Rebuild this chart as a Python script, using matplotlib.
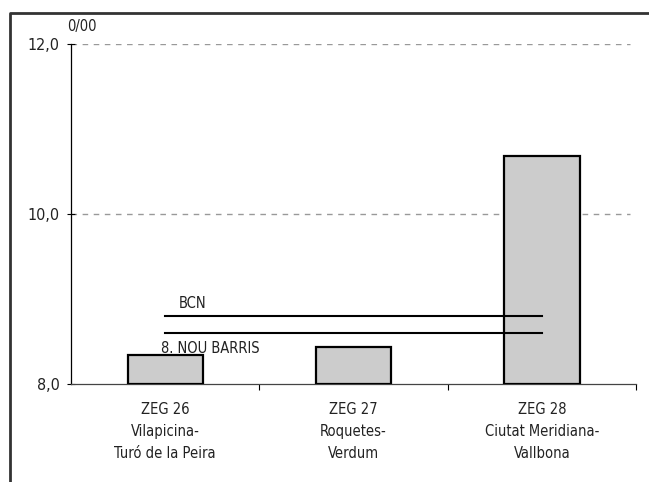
import matplotlib
matplotlib.use("Agg")
import matplotlib.pyplot as plt
from matplotlib.lines import Line2D

plt.rcParams['font.family'] = ['DejaVu Sans']
plt.rcParams['font.stretch'] = 'condensed'

categories = ["ZEG 26\nVilapicina-\nTuró de la Peira",
              "ZEG 27\nRoquetes-\nVerdum",
              "ZEG 28\nCiutat Meridiana-\nVallbona"]
values = [8.34, 8.44, 10.68]
bcn = [8.8, 8.8, 8.8]
nou_barris = [8.6, 8.6, 8.6]
yticks = [8.0, 10.0, 12.0]
ytick_labels = ["8,0", "10,0", "12,0"]

fig = plt.figure(figsize=(6.49, 4.82), dpi=100)
ax = fig.add_axes([71/649, 1-384/482, (636-71)/649, (384-44)/482])

x = list(range(len(categories)))
ax.bar(x, [v - 8.0 for v in values], bottom=8.0, width=0.4,
       color="#cccccc", edgecolor="black", linewidth=1.6, zorder=3)
ax.plot(x, bcn, color="black", lw=1.5, zorder=4)
ax.plot(x, nou_barris, color="black", lw=1.5, zorder=4)

fs = 10.5
tc = "#222222"
ax.text(0.07, 8.95, "BCN", fontsize=fs, va="center", ha="left", color=tc)
ax.text(-0.02, 8.42, "8. NOU BARRIS", fontsize=fs, va="center", ha="left", color=tc)

ax.set_xlim(-0.5, 2.5)
ax.set_ylim(8.0, 12.0)
ax.set_yticks(yticks)
ax.set_yticklabels(ytick_labels, fontsize=11.5, color=tc)
ax.tick_params(axis='y', direction='inout', length=6, width=0.8, pad=5)

ax.set_xticks(x)
ax.set_xticklabels(categories, fontsize=fs, linespacing=1.6, color=tc)
ax.tick_params(axis='x', which='major', length=0, pad=13)
ax.set_xticks([0.5, 1.5, 2.5], minor=True)
ax.tick_params(axis='x', which='minor', direction='out', length=4, width=0.8)

for yv in [10.0, 12.0]:
    ax.plot([-0.5, 2.47], [yv, yv], color="#999999", lw=1, ls=(0, (4, 4)), zorder=1)

for s in ['top', 'right']:
    ax.spines[s].set_visible(False)
ax.spines['left'].set_linewidth(0.9)
ax.spines['bottom'].set_linewidth(0.9)
ax.spines['bottom'].set_color("#444444")

fig.text(67/649, 1-27/482, "0/00", fontsize=fs, va="center", ha="left", color=tc)

fig.add_artist(Line2D([10/649, 10/649, 1.0], [0.0, 1-13/482, 1-13/482],
                      transform=fig.transFigure, color="#333333", lw=2))

fig.savefig("out.png", dpi=100)
